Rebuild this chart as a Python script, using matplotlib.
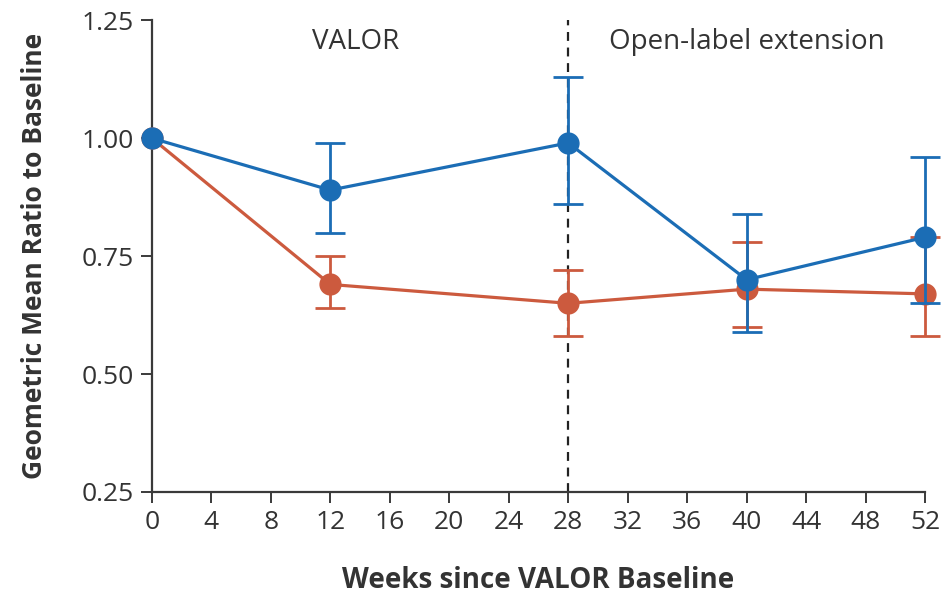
import matplotlib
matplotlib.use("Agg")
import matplotlib.pyplot as plt

# data
weeks = [0, 12, 28, 40, 52]
blue_mean = [1.00, 0.89, 0.99, 0.70, 0.79]
blue_low = [1.00, 0.80, 0.86, 0.59, 0.65]
blue_high = [1.00, 0.99, 1.13, 0.84, 0.96]
red_mean = [1.00, 0.69, 0.65, 0.68, 0.67]
red_low = [1.00, 0.64, 0.58, 0.60, 0.58]
red_high = [1.00, 0.75, 0.72, 0.78, 0.79]

x_ticks = list(range(0, 53, 4))
y_ticks = [0.25, 0.50, 0.75, 1.00, 1.25]

BLUE = '#1b6db5'
RED = '#cc5a3e'
AXIS = '#3a3a3a'

plt.rcParams['font.family'] = ['Open Sans', 'DejaVu Sans']

fig = plt.figure(figsize=(9.43, 5.96), dpi=100)
ax = fig.add_axes([0.161, 0.1745, 0.820, 0.7915])


def draw_series(mean, low, high, color, z):
    err = [[m - l for m, l in zip(mean, low)], [h - m for m, h in zip(mean, high)]]
    # no error bar at baseline
    bars = ax.errorbar(weeks[1:], mean[1:], yerr=[err[0][1:], err[1][1:]], fmt='none',
                       ecolor=color, elinewidth=2, capsize=11, capthick=2, zorder=z)
    for part in bars.lines[1] + bars.lines[2]:
        part.set_clip_on(False)
    ax.plot(weeks, mean, color=color, linewidth=2.3, marker='o', markersize=15,
            zorder=z + 1, clip_on=False)


draw_series(red_mean, red_low, red_high, RED, 3)
draw_series(blue_mean, blue_low, blue_high, BLUE, 5)

ax.axvline(28, color='#222222', linestyle=(0, (4, 3)), linewidth=1.6, zorder=1)

ax.text(13.7, 1.203, 'VALOR', fontsize=20, ha='center', va='center', color='#333333')
ax.text(40, 1.203, 'Open-label extension', fontsize=20, ha='center', va='center',
        color='#333333')

ax.set_xlim(0, 52)
ax.set_ylim(0.25, 1.25)
ax.set_xticks(x_ticks)
ax.set_yticks(y_ticks)
ax.set_yticklabels([f'{v:.2f}' for v in y_ticks])
ax.spines['top'].set_visible(False)
ax.spines['right'].set_visible(False)
for s in ('left', 'bottom'):
    ax.spines[s].set_color(AXIS)
    ax.spines[s].set_linewidth(1.6)
ax.tick_params(axis='both', direction='out', length=8, width=1.4, color=AXIS,
               labelsize=19, labelcolor='#333333', pad=5)

ax.set_xlabel('Weeks since VALOR Baseline', fontsize=20, fontweight='bold',
              color='#333333', labelpad=22)
ax.set_ylabel('Geometric Mean Ratio to Baseline', fontsize=19, fontweight='bold',
              color='#333333', labelpad=24)

fig.savefig('out.png', dpi=100, facecolor='white')
